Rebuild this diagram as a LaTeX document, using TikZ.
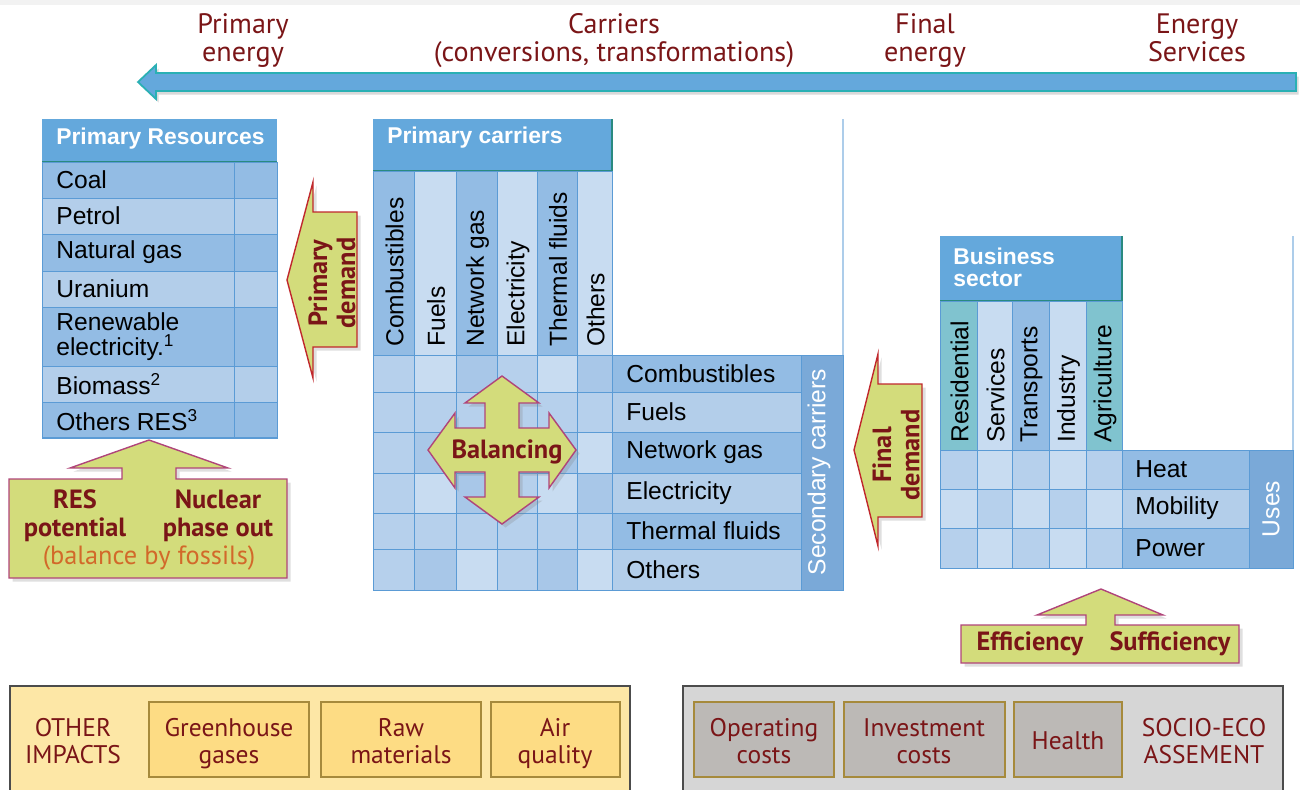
\documentclass[tikz,border=0pt]{standalone}
\usepackage{fontspec}
\setmainfont{Liberation Sans}
\newfontfamily\capfont{PT Sans}
\usepackage{xcolor}
\usetikzlibrary{shadows}

\definecolor{lblred}{HTML}{7A1517}
\definecolor{hdrblue}{HTML}{64A8DC}
\definecolor{arrowteal}{HTML}{2AB0B4}
\definecolor{hdrline}{HTML}{2A8A80}
\definecolor{rowdark}{HTML}{93BCE4}
\definecolor{rowlight}{HTML}{B3CEEA}
\definecolor{celllight}{HTML}{C8DCF1}
\definecolor{cellmid}{HTML}{B6D0EC}
\definecolor{celldark}{HTML}{A8C7E8}
\definecolor{colteal}{HTML}{80C3CF}
\definecolor{gridline}{HTML}{5B9BD5}
\definecolor{sidebar}{HTML}{7AA9D8}
\definecolor{arrowfill}{HTML}{D3DC7B}
\definecolor{demandred}{HTML}{C0282D}
\definecolor{arrowedge}{HTML}{B0457A}
\definecolor{fossil}{HTML}{D2692A}
\definecolor{impactbg}{HTML}{FDE7A6}
\definecolor{impactbox}{HTML}{FDDC84}
\definecolor{boxedge}{HTML}{A68A3C}
\definecolor{costbg}{HTML}{D6D6D6}
\definecolor{costbox}{HTML}{BCB9B6}

\begin{document}
\begin{tikzpicture}[x=0.02cm,y=-0.02cm,
	cell/.style={draw=gridline,line width=0.5pt},
	tab/.style={font=\fontsize{14}{13.5}\selectfont,inner sep=0pt,align=left},
	vtab/.style={tab,rotate=90,anchor=west},
	hdrtxt/.style={font=\fontsize{13}{12.5}\selectfont\bfseries,text=white,inner sep=0pt,align=left,anchor=west},
	chainlbl/.style={font=\capfont\fontsize{16}{16}\selectfont,text=lblred,align=center,inner sep=0pt,anchor=north},
	bigarrow/.style={fill=hdrblue,draw=arrowteal,line width=1pt,drop shadow={shadow xshift=1.5pt,shadow yshift=-2pt,opacity=0.3}},
	demand/.style={fill=arrowfill,draw=demandred,line width=0.8pt,drop shadow={shadow xshift=2pt,shadow yshift=-2pt,opacity=0.25}},
	lever/.style={fill=arrowfill,draw=arrowedge,line width=0.8pt,drop shadow={shadow xshift=2pt,shadow yshift=-2pt,opacity=0.25}},
	levertxt/.style={font=\capfont\bfseries\fontsize{15}{16}\selectfont,text=lblred,align=center},
	impact/.style={fill=impactbox,draw=boxedge,line width=0.8pt},
	cost/.style={fill=costbox,draw=boxedge,line width=0.8pt},
	boxtxt/.style={font=\capfont\fontsize{14.5}{15.5}\selectfont,text=lblred,align=center,inner sep=0pt,anchor=north}
	]
	\useasboundingbox (0,0) rectangle (1300,789);
	\fill[black!5] (0,0) rectangle (1300,5);

	% energy chain along the top
	\node[chainlbl] (primary) at (243,13) {Primary\\energy};
	\node[chainlbl] (carriers) at (614,13) {Carriers\\(conversions, transformations)};
	\node[chainlbl] (final) at (925,13) {Final\\energy};
	\node[chainlbl] (services) at (1197,13) {Energy\\Services};
	\draw[bigarrow] (1296,73) -- (156,73) -- (156,65) -- (138,82) -- (156,99) -- (156,91) -- (1296,91) -- cycle;

	% primary resources
	\fill[hdrblue] (42,119) rectangle (277,162);
	\draw[hdrline,line width=1pt] (42,162) -- (277,162);
	\node[hdrtxt] (res) at (56,139) {Primary Resources};
	\foreach \ya/\yb/\txt/\cc [count=\n] in {162/198/Coal/rowdark,198/234/Petrol/rowlight,234/271/Natural gas/rowdark,
			271/307/Uranium/rowlight,307/366/{Renewable\\[1pt]electricity.\textsuperscript{1}}/rowdark,
			366/402/Biomass\textsuperscript{2}/rowlight,402/438/Others RES\textsuperscript{3}/rowdark}{
		\filldraw[cell,fill=\cc] (42,\ya) rectangle (234,\yb);
		\filldraw[cell,fill=\cc] (234,\ya) rectangle (277,\yb);
		\node[tab,anchor=west] (res-\n) at (56,{(\ya+\yb)/2}) {\txt};
	}
	\draw[gridline,line width=1pt] (42,438) -- (277,438);

	\draw[demand] (287,280) -- (313,182) -- (313,212) -- (357,212) -- (357,347) -- (313,347) -- (313,378) -- cycle;
	\node[levertxt,rotate=90] (pdemand) at (332,283) {Primary\\demand};

	\draw[lever] (149,440) -- (228,468) -- (176,468) -- (176,479) -- (287,479) -- (287,578) -- (9,578) -- (9,479) -- (122,479) -- (122,468) -- (70,468) -- cycle;
	\node[levertxt] (respot) at (75,516) {RES\\potential};
	\node[levertxt] (nuclear) at (218,516) {Nuclear\\phase out};
	\node[levertxt,text=fossil,font=\capfont\fontsize{15}{16}\selectfont] (fossils) at (149,558) {(balance by fossils)};

	% carriers
	\fill[hdrblue] (373,119) rectangle (612,171);
	\draw[hdrline,line width=1pt] (373,171) -- (612,171) -- (612,119);
	\node[hdrtxt] (pc) at (387,138) {Primary carriers};
	\foreach \xa/\xb/\txt/\cc [count=\n] in {373/414/Combustibles/rowdark,414/456/Fuels/celllight,456/497/Network gas/rowdark,
			497/537/Electricity/celllight,537/577/Thermal fluids/rowdark,577/612/Others/celllight}{
		\filldraw[cell,fill=\cc] (\xa,171) rectangle (\xb,355);
		\node[vtab] (pc-\n) at ({(\xa+\xb)/2+1},347) {\txt};
	}
	\foreach \xa/\xb [count=\i] in {373/414,414/456,456/497,497/537,537/577,577/612}
		\foreach \ya/\yb [count=\j] in {355/392,392/432,432/473,473/513,513/549,549/590}{
			\pgfmathtruncatemacro\shade{mod(\i+2*\j+\i*\j,3)}
			\ifcase\shade \def\cc{celllight}\or \def\cc{cellmid}\or \def\cc{celldark}\fi
			\filldraw[cell,fill=\cc] (\xa,\ya) rectangle (\xb,\yb);
		}
	\foreach \ya/\yb/\txt/\cc [count=\n] in {355/392/Combustibles/rowdark,392/432/Fuels/rowlight,432/473/Network gas/rowdark,
			473/513/Electricity/rowlight,513/549/Thermal fluids/rowdark,549/590/Others/rowlight}{
		\filldraw[cell,fill=\cc] (612,\ya) rectangle (801,\yb);
		\node[tab,anchor=west] (sc-\n) at (626,{(\ya+\yb)/2}) {\txt};
	}
	\filldraw[cell,fill=sidebar] (801,355) rectangle (843,590);
	\node[tab,rotate=90,text=white] (sc) at (819,472) {Secondary carriers};
	\draw[gridline!50,line width=0.6pt] (843,119) -- (843,355);

	\draw[lever] (502,376) -- (539,403) -- (519,403) -- (519,428) -- (549,428) -- (549,413) -- (576,450) -- (549,488) -- (549,472) -- (519,472) -- (519,497) -- (539,497) -- (502,524)
		-- (465,497) -- (485,497) -- (485,472) -- (455,472) -- (455,488) -- (428,450) -- (455,413) -- (455,428) -- (485,428) -- (485,403) -- (465,403) -- cycle;
	\node[levertxt] (balancing) at (507,452) {Balancing};

	\draw[demand] (854,450) -- (878,354) -- (878,384) -- (922,384) -- (922,517) -- (878,517) -- (878,546) -- cycle;
	\node[levertxt,rotate=90] (fdemand) at (896,455) {Final\\demand};

	% business sectors and uses
	\fill[hdrblue] (940,236) rectangle (1122,301);
	\draw[hdrline,line width=1pt] (940,301) -- (1122,301) -- (1122,236);
	\node[hdrtxt] (bs) at (953,267) {Business\\sector};
	\foreach \xa/\xb/\txt/\cc [count=\n] in {940/977/Residential/colteal,977/1012/Services/celllight,1012/1049/Transports/rowdark,
			1049/1086/Industry/celllight,1086/1122/Agriculture/colteal}{
		\filldraw[cell,fill=\cc] (\xa,301) rectangle (\xb,450);
		\node[vtab] (bs-\n) at ({(\xa+\xb)/2+1},443) {\txt};
	}
	\foreach \xa/\xb [count=\i] in {940/977,977/1012,1012/1049,1049/1086,1086/1122}
		\foreach \ya/\yb [count=\j] in {450/489,489/528,528/568}{
			\pgfmathtruncatemacro\shade{mod(\i+\j,2)}
			\ifcase\shade \def\cc{cellmid}\or \def\cc{celllight}\fi
			\filldraw[cell,fill=\cc] (\xa,\ya) rectangle (\xb,\yb);
		}
	\foreach \ya/\yb/\txt/\cc [count=\n] in {450/489/Heat/rowdark,489/528/Mobility/rowlight,528/568/Power/rowdark}{
		\filldraw[cell,fill=\cc] (1122,\ya) rectangle (1249,\yb);
		\node[tab,anchor=west] (use-\n) at (1135,{(\ya+\yb)/2}) {\txt};
	}
	\filldraw[cell,fill=sidebar] (1249,450) rectangle (1293,568);
	\node[tab,rotate=90,text=white] (uses) at (1271,509) {Uses};
	\draw[gridline!50,line width=0.6pt] (1293,236) -- (1293,450);

	\draw[lever] (1101,589) -- (1163,615) -- (1115,615) -- (1115,625) -- (1239,625) -- (1239,663) -- (961,663) -- (961,625) -- (1086,625) -- (1086,615) -- (1037,615) -- cycle;
	\node[levertxt] (eff) at (1030,644) {Efficiency};
	\node[levertxt] (suff) at (1170,644) {Sufficiency};

	% impacts and assessment
	\filldraw[fill=impactbg,draw=black!70,line width=0.8pt] (10,686) rectangle (630,800);
	\node[boxtxt] (impacts) at (73,718) {OTHER\\IMPACTS};
	\filldraw[impact] (149,702) rectangle (309,777);
	\node[boxtxt] (ghg) at (229,718) {Greenhouse\\gases};
	\filldraw[impact] (321,702) rectangle (481,777);
	\node[boxtxt] (raw) at (401,718) {Raw\\materials};
	\filldraw[impact] (491,702) rectangle (620,777);
	\node[boxtxt] (air) at (555,718) {Air\\quality};

	\filldraw[fill=costbg,draw=black!70,line width=0.8pt] (683,686) rectangle (1283,800);
	\filldraw[cost] (694,702) rectangle (834,777);
	\node[boxtxt] (opex) at (764,718) {Operating\\costs};
	\filldraw[cost] (844,702) rectangle (1005,777);
	\node[boxtxt] (capex) at (924,718) {Investment\\costs};
	\filldraw[cost] (1014,702) rectangle (1122,777);
	\node[boxtxt] (health) at (1068,731) {Health};
	\node[boxtxt] (socio) at (1204,718) {SOCIO-ECO\\ASSEMENT};
\end{tikzpicture}
\end{document}
